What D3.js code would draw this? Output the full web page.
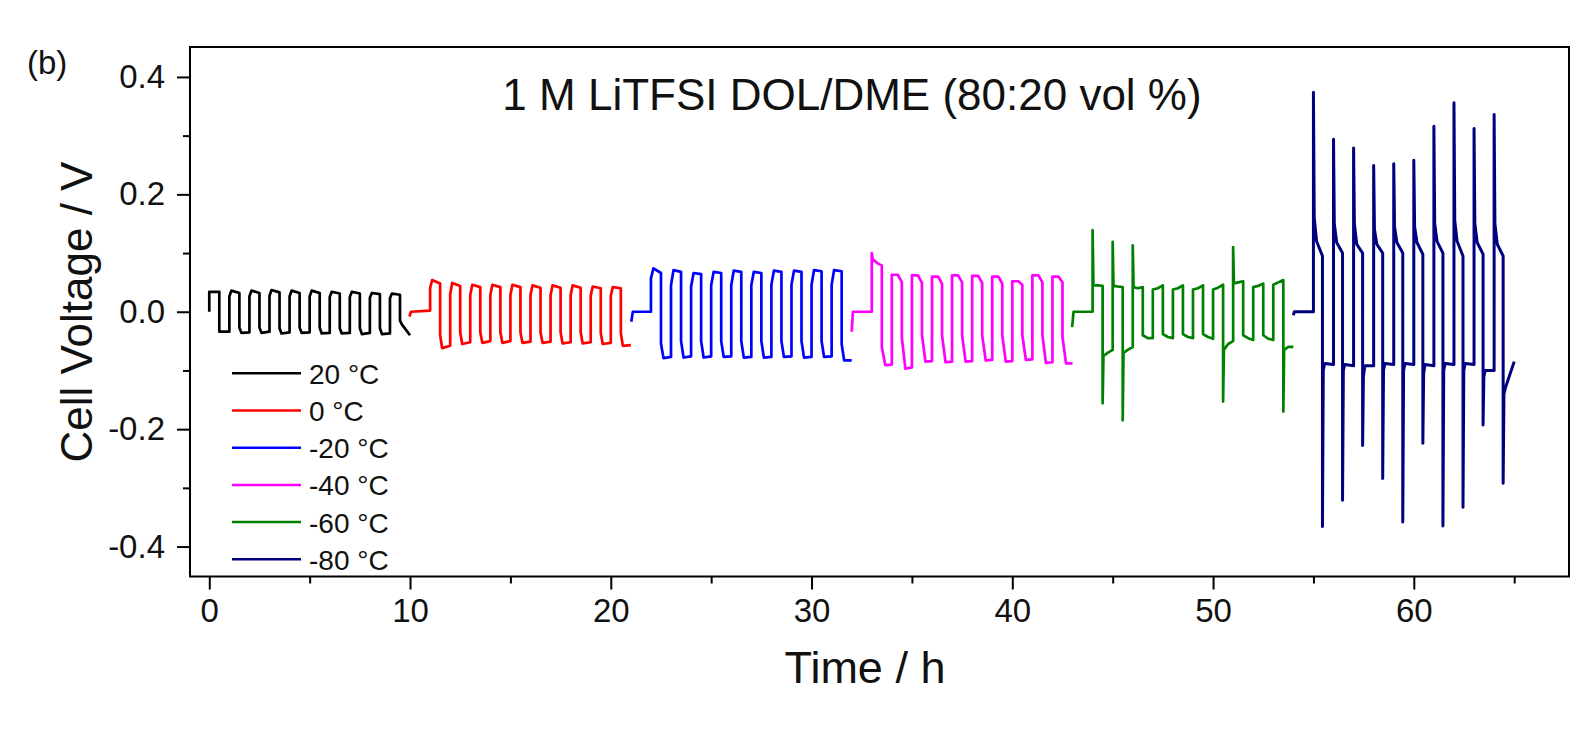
<!DOCTYPE html>
<html>
<head>
<meta charset="utf-8">
<script src="https://cdn.jsdelivr.net/npm/d3@7"></script>
<style>
  body { margin: 0; background: #fff; }
  svg { display: block; font-family: "Liberation Sans", Arial, sans-serif; }
</style>
</head>
<body>
<div id="chart"></div>
<script>
// cell voltage vs time, Li symmetric cell, 6 temperatures

const temps = ["20 °C", "0 °C", "-20 °C", "-40 °C", "-60 °C", "-80 °C"];
const colors = ["#000000", "#ff0000", "#0000ff", "#ff00ff", "#008000", "#000080"];

// first charge step of each temperature block (h)
const firstCycle = [0, 11, 22, 33, 44, 55];
const chargeHours = [0.5, 0.5, 0.5, 0.5, 0.5, 0.45];
const chargeKnee = [0.2, 0.2, 0.25, 0.6, 0.5, 0.35];
const dischargeKnee = [0.2, 0.2, 0.25, 0.35, 0.5, 0.2];

// rest before cycling [t, V]
const restPts = [
  [[0, 0.0]],
  [[9.97, -0.008], [10.05, 0.0], [11.0, 0.002]],
  [[21.02, -0.017], [21.1, 0.0], [22.0, 0.0]],
  [[32.0, -0.034], [32.06, 0.0], [33.0, 0.0]],
  [[42.98, -0.026], [43.05, 0.0], [44.0, 0.0]],
  [[54.0, -0.006], [54.05, 0.0], [55.0, 0.0]]
];

// per cycle: [spike, jump, knee, end] in V
const charge20 = [
  [null, 0.034, 0.034, 0.034], [null, 0.026, 0.036, 0.032], [null, 0.026, 0.036, 0.032],
  [null, 0.027, 0.037, 0.033], [null, 0.026, 0.036, 0.032], [null, 0.026, 0.036, 0.032],
  [null, 0.025, 0.034, 0.031], [null, 0.025, 0.034, 0.031], [null, 0.024, 0.032, 0.030],
  [null, 0.023, 0.031, 0.029]];
const discharge20 = [
  [null, -0.034, -0.034, -0.034], [null, -0.027, -0.036, -0.035], [null, -0.027, -0.036, -0.034],
  [null, -0.028, -0.037, -0.035], [null, -0.027, -0.036, -0.035], [null, -0.027, -0.037, -0.036],
  [null, -0.028, -0.037, -0.036], [null, -0.028, -0.038, -0.036], [null, -0.028, -0.038, -0.037],
  [null, -0.015, -0.022, -0.040]];

const charge0 = [
  [null, 0.040, 0.054, 0.048], [null, 0.030, 0.049, 0.044], [null, 0.028, 0.046, 0.042],
  [null, 0.028, 0.046, 0.042], [null, 0.028, 0.046, 0.042], [null, 0.028, 0.045, 0.041],
  [null, 0.028, 0.045, 0.041], [null, 0.028, 0.045, 0.041], [null, 0.027, 0.043, 0.040],
  [null, 0.027, 0.042, 0.040]];
const discharge0 = [
  [null, -0.040, -0.062, -0.058], [null, -0.035, -0.055, -0.052], [null, -0.035, -0.053, -0.050],
  [null, -0.035, -0.053, -0.050], [null, -0.035, -0.053, -0.051], [null, -0.035, -0.053, -0.051],
  [null, -0.035, -0.054, -0.052], [null, -0.035, -0.054, -0.052], [null, -0.036, -0.055, -0.053],
  [null, -0.036, -0.058, -0.057]];

const chargeM20 = [
  [null, 0.057, 0.074, 0.066], [null, 0.045, 0.071, 0.068], [null, 0.043, 0.066, 0.064],
  [null, 0.045, 0.068, 0.066], [null, 0.045, 0.070, 0.068], [null, 0.045, 0.068, 0.066],
  [null, 0.046, 0.070, 0.068], [null, 0.046, 0.070, 0.068], [null, 0.046, 0.071, 0.069],
  [null, 0.046, 0.071, 0.069]];
const dischargeM20 = [
  [null, -0.054, -0.079, -0.077], [null, -0.050, -0.078, -0.076], [null, -0.050, -0.078, -0.076],
  [null, -0.050, -0.077, -0.076], [null, -0.050, -0.078, -0.077], [null, -0.050, -0.078, -0.077],
  [null, -0.050, -0.077, -0.076], [null, -0.050, -0.078, -0.077], [null, -0.050, -0.077, -0.076],
  [null, -0.055, -0.083, -0.083]];

const chargeM40 = [
  [0.100, 0.090, 0.082, 0.079], [null, 0.063, 0.063, 0.050], [null, 0.062, 0.062, 0.049],
  [null, 0.060, 0.060, 0.048], [null, 0.062, 0.062, 0.050], [null, 0.061, 0.061, 0.049],
  [null, 0.060, 0.060, 0.048], [null, 0.052, 0.052, 0.046], [null, 0.062, 0.062, 0.050],
  [null, 0.060, 0.060, 0.050]];
const dischargeM40 = [
  [null, -0.060, -0.091, -0.090], [null, -0.045, -0.097, -0.095], [null, -0.040, -0.085, -0.084],
  [null, -0.040, -0.086, -0.085], [null, -0.040, -0.085, -0.084], [null, -0.040, -0.083, -0.082],
  [null, -0.040, -0.085, -0.084], [null, -0.040, -0.082, -0.081], [null, -0.040, -0.087, -0.086],
  [null, -0.043, -0.088, -0.088]];

const chargeM60 = [
  [0.139, 0.045, 0.045, 0.044], [0.119, 0.044, 0.043, 0.042], [0.113, 0.042, 0.040, 0.042],
  [null, 0.038, 0.040, 0.045], [null, 0.038, 0.040, 0.045], [null, 0.038, 0.040, 0.045],
  [null, 0.038, 0.041, 0.046], [0.110, 0.048, 0.050, 0.052], [null, 0.042, 0.044, 0.048],
  [null, 0.046, 0.050, 0.054]];
const dischargeM60 = [
  [-0.156, -0.075, -0.070, -0.065], [-0.185, -0.070, -0.065, -0.060], [null, -0.040, -0.045, -0.045],
  [null, -0.038, -0.043, -0.045], [null, -0.038, -0.043, -0.045], [null, -0.038, -0.043, -0.046],
  [-0.153, -0.065, -0.055, -0.050], [null, -0.040, -0.045, -0.048], [null, -0.040, -0.046, -0.048],
  [-0.170, -0.065, -0.060, -0.060]];

const chargeM80 = [
  [0.374, 0.160, 0.120, 0.095], [0.294, 0.150, 0.118, 0.100], [0.279, 0.150, 0.115, 0.100],
  [0.249, 0.140, 0.115, 0.100], [0.252, 0.145, 0.118, 0.100], [0.258, 0.145, 0.118, 0.098],
  [0.316, 0.150, 0.120, 0.100], [0.356, 0.155, 0.120, 0.095], [0.312, 0.150, 0.118, 0.098],
  [0.336, 0.150, 0.115, 0.095]];
const dischargeM80 = [
  [-0.366, -0.100, -0.088, -0.090], [-0.321, -0.100, -0.090, -0.092], [-0.228, -0.110, -0.092, -0.092],
  [-0.284, -0.100, -0.088, -0.090], [-0.358, -0.100, -0.088, -0.090], [-0.224, -0.105, -0.090, -0.092],
  [-0.365, -0.100, -0.088, -0.090], [-0.333, -0.100, -0.088, -0.090], [-0.193, -0.110, -0.100, -0.100],
  [-0.292, -0.140, -0.130, -0.085]];

const charges = [charge20, charge0, chargeM20, chargeM40, chargeM60, chargeM80];
const discharges = [discharge20, discharge0, dischargeM20, dischargeM40, dischargeM60, dischargeM80];

const xTicks = [0, 10, 20, 30, 40, 50, 60];
const xMinor = [5, 15, 25, 35, 45, 55, 65];
const yTicks = [-0.4, -0.2, 0.0, 0.2, 0.4];
const yMinor = [-0.3, -0.1, 0.1, 0.3];

const width = 1573, height = 739;
const svg = d3.select("#chart").append("svg")
  .attr("width", width).attr("height", height);

const x = d3.scaleLinear().domain([-0.96, 67.73]).range([190, 1569]);
const y = d3.scaleLinear().domain([-0.451, 0.451]).range([576.5, 47]);

// one half cycle -> list of [t, V]
function halfCycle(t0, dur, knee, v) {
  const pts = [];
  const [spike, a, b, c] = v;
  if (spike !== null) {
    pts.push([t0, spike]);
    pts.push([t0 + 0.04, a]);
  } else {
    pts.push([t0, a]);
  }
  pts.push([t0 + dur * knee, b]);
  pts.push([t0 + dur, c]);
  return pts;
}

const series = temps.map((name, i) => {
  let pts = restPts[i].slice();
  charges[i].forEach((cv, k) => {
    const t0 = firstCycle[i] + k;
    const cd = chargeHours[i];
    pts = pts.concat(halfCycle(t0, cd, chargeKnee[i], cv));
    pts = pts.concat(halfCycle(t0 + cd, 1 - cd, dischargeKnee[i], discharges[i][k]));
  });
  return { name, color: colors[i], pts };
});

const line = d3.line().x(d => x(d[0])).y(d => y(d[1]));

svg.append("g").selectAll("path")
  .data(series)
  .join("path")
  .attr("d", d => line(d.pts))
  .attr("fill", "none")
  .attr("stroke", d => d.color)
  .attr("stroke-width", (d, i) => i == 5 ? 3 : 2.7)
  .attr("stroke-linejoin", "round");

// axes
svg.append("g").attr("transform", "translate(0,576.5)")
  .call(d3.axisBottom(x).tickValues(xTicks).tickSize(13).tickPadding(9).tickFormat(d => d));
svg.append("g").attr("transform", "translate(0,576.5)")
  .call(d3.axisBottom(x).tickValues(xMinor).tickSize(7).tickFormat(""));
svg.append("g").attr("transform", "translate(190,0)")
  .call(d3.axisLeft(y).tickValues(yTicks).tickSize(13).tickPadding(12).tickFormat(d => d.toFixed(1)));
svg.append("g").attr("transform", "translate(190,0)")
  .call(d3.axisLeft(y).tickValues(yMinor).tickSize(7).tickFormat(""));

svg.selectAll(".domain").remove();
svg.selectAll(".tick line").attr("stroke", "#000").attr("stroke-width", 2);
svg.selectAll(".tick text").attr("font-size", 33).attr("fill", "#111")
  .attr("font-family", "'Liberation Sans', Arial, sans-serif");

// frame
svg.append("rect")
  .attr("x", 190).attr("y", 47)
  .attr("width", 1569 - 190).attr("height", 576.5 - 47)
  .attr("fill", "none").attr("stroke", "#000").attr("stroke-width", 2);

// titles
svg.append("text").attr("x", 852).attr("y", 110)
  .attr("text-anchor", "middle").attr("font-size", 44).attr("fill", "#111")
  .text("1 M LiTFSI DOL/DME (80:20 vol %)");
svg.append("text").attr("x", 27).attr("y", 74)
  .attr("font-size", 33).attr("fill", "#111").text("(b)");
svg.append("text").attr("x", 865).attr("y", 683)
  .attr("text-anchor", "middle").attr("font-size", 45).attr("fill", "#111")
  .text("Time / h");
svg.append("text")
  .attr("transform", "translate(92,312) rotate(-90)")
  .attr("text-anchor", "middle").attr("font-size", 44).attr("fill", "#111")
  .text("Cell Voltage / V");

// legend
const legend = svg.append("g").selectAll("g")
  .data(series)
  .join("g")
  .attr("transform", (d, i) => `translate(0,${373.3 + i * 37.2})`);
legend.append("line")
  .attr("x1", 232).attr("x2", 301)
  .attr("stroke", d => d.color).attr("stroke-width", 2.5);
legend.append("text")
  .attr("x", 309).attr("y", 10.5)
  .attr("font-size", 28).attr("fill", "#111")
  .text(d => d.name);
</script>
</body>
</html>
